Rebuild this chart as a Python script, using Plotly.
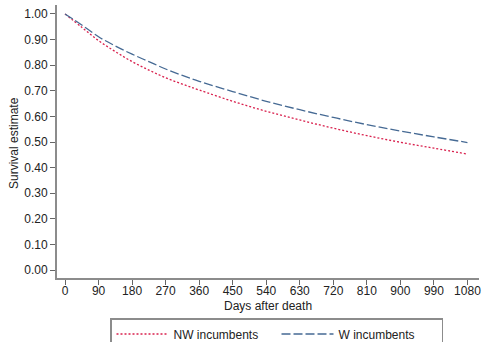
import plotly.graph_objects as go

days = [0, 45, 90, 135, 180, 225, 270, 315, 360, 450, 540, 630, 720, 810, 900, 990, 1080]
nw_surv = [1.0, 0.948, 0.896, 0.853, 0.814, 0.781, 0.751, 0.726, 0.703, 0.659, 0.620, 0.586, 0.554, 0.525, 0.499, 0.476, 0.453]
w_surv = [1.0, 0.957, 0.911, 0.875, 0.843, 0.814, 0.785, 0.760, 0.737, 0.697, 0.659, 0.626, 0.596, 0.568, 0.543, 0.520, 0.498]
x_ticks = list(range(0, 1081, 90))
y_ticks = [i / 10 for i in range(11)]
y_tick_labels = ["%.2f" % v for v in y_ticks]
x_title = "Days after death"
y_title = "Survival estimate"

fig = go.Figure()
fig.add_trace(go.Scatter(x=days, y=nw_surv, mode="lines", name="NW incumbents",
                         line=dict(color="#d9214e", width=1.3, dash="2px,2px", shape="spline")))
fig.add_trace(go.Scatter(x=days, y=w_surv, mode="lines", name="W incumbents",
                         line=dict(color="#466a94", width=1.3, dash="9px,3px", shape="spline")))

axis_common = dict(showline=True, linecolor="#8c8c8c", linewidth=2, ticks="outside",
                   ticklen=5, tickcolor="#666", tickwidth=1, showgrid=False, zeroline=False,
                   automargin=False,
                   tickfont=dict(family="Liberation Sans, Arial", size=12, color="#222"))
fig.update_layout(
    width=484, height=342,
    margin=dict(l=57, r=5, t=5, b=64, autoexpand=False),
    paper_bgcolor="white", plot_bgcolor="white",
    font=dict(family="Liberation Sans, Arial", size=12, color="#222"),
    xaxis=dict(range=[-21.5, 1111], tickvals=x_ticks, ticklabelstandoff=-4, **axis_common),
    yaxis=dict(range=[-0.031, 1.035], tickvals=y_ticks, ticktext=y_tick_labels, **axis_common),
    legend=dict(orientation="h", xref="container", yref="container", x=110 / 484, y=1 - 318 / 342,
                xanchor="left", yanchor="top",
                bordercolor="#8c8c8c", borderwidth=1.5, bgcolor="white",
                font=dict(size=12, color="#222"),
                itemwidth=52, entrywidth=98, entrywidthmode="pixels", tracegroupgap=0),
    annotations=[
        dict(text=x_title, xref="paper", yref="paper", x=0.5, y=(278 - 306) / 273,
             xanchor="center", yanchor="middle", showarrow=False, font=dict(size=12)),
        dict(text=y_title, xref="paper", yref="paper", x=(14 - 57) / 422, y=(278 - 143) / 273,
             xanchor="center", yanchor="middle", textangle=-90, showarrow=False, font=dict(size=12)),
    ],
)
fig.write_html("out.html")
